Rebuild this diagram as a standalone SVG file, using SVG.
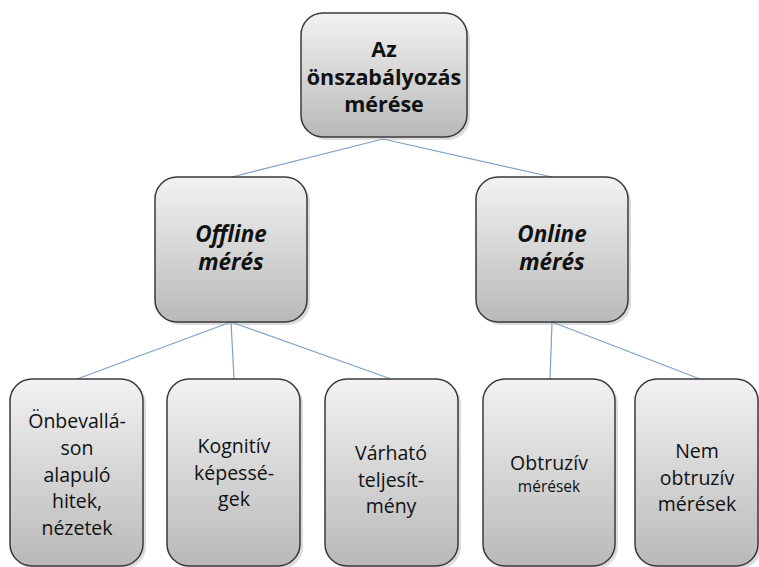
<svg xmlns="http://www.w3.org/2000/svg" width="759" height="567" viewBox="0 0 759 567">
<defs>
<linearGradient id="g" x1="0" y1="0" x2="0" y2="1">
<stop offset="0" stop-color="#f2f2f2"/>
<stop offset="1" stop-color="#b9b9b9"/>
</linearGradient>
<style>
.box{fill:url(#g);stroke:#3a3a3a;stroke-width:1.5}
.sh{fill:#9a9a9a;opacity:0.35}
.t{font-family:"Open Sans","Liberation Sans",Arial,sans-serif;fill:#111;text-anchor:middle}
.b{font-weight:bold;font-size:21.5px}
.bi{font-weight:bold;font-style:italic;font-size:22.5px}
.r{font-size:19.5px}
.s{font-size:15.5px}
.c{stroke:#7f9fc8;stroke-width:1.2;fill:none}
</style>
</defs>
<rect width="759" height="567" fill="#ffffff"/>
<g id="connectors">
<line class="c" x1="383" y1="139" x2="232" y2="177"/>
<line class="c" x1="383" y1="139" x2="552" y2="177"/>
<line class="c" x1="231" y1="322" x2="77" y2="379"/>
<line class="c" x1="231" y1="322" x2="234" y2="379"/>
<line class="c" x1="231" y1="322" x2="391" y2="379"/>
<line class="c" x1="552" y1="322" x2="550" y2="379"/>
<line class="c" x1="552" y1="322" x2="700" y2="379"/>
</g>
<g id="root">
<rect class="sh" x="304" y="16" width="166" height="124" rx="22"/>
<rect class="box" x="301" y="13" width="166" height="124" rx="22"/>
<text class="t b" x="384" y="57">Az</text>
<text class="t b" x="384" y="85">önszabályozás</text>
<text class="t b" x="384" y="112">mérése</text>
</g>
<g id="offline">
<rect class="sh" x="158" y="180" width="152" height="145" rx="22"/>
<rect class="box" x="155" y="177" width="152" height="145" rx="22"/>
<text class="t bi" x="231" y="242">Offline</text>
<text class="t bi" x="231" y="270">mérés</text>
</g>
<g id="online">
<rect class="sh" x="479" y="180" width="152" height="145" rx="22"/>
<rect class="box" x="476" y="177" width="152" height="145" rx="22"/>
<text class="t bi" x="552" y="242">Online</text>
<text class="t bi" x="552" y="270">mérés</text>
</g>
<g id="onbevallas">
<rect class="sh" x="13" y="382" width="133" height="187" rx="22"/>
<rect class="box" x="10" y="379" width="133" height="187" rx="22"/>
<text class="t r" x="77" y="428">Önbevallá-</text>
<text class="t r" x="77" y="455">son</text>
<text class="t r" x="77" y="482">alapuló</text>
<text class="t r" x="77" y="508">hitek,</text>
<text class="t r" x="77" y="535">nézetek</text>
</g>
<g id="kognitiv">
<rect class="sh" x="170" y="382" width="133" height="187" rx="22"/>
<rect class="box" x="167" y="379" width="133" height="187" rx="22"/>
<text class="t r" x="234" y="453">Kognitív</text>
<text class="t r" x="234" y="480">képessé-</text>
<text class="t r" x="234" y="506">gek</text>
</g>
<g id="varhato">
<rect class="sh" x="328" y="382" width="133" height="187" rx="22"/>
<rect class="box" x="325" y="379" width="133" height="187" rx="22"/>
<text class="t r" x="391" y="460">Várható</text>
<text class="t r" x="391" y="487">teljesít-</text>
<text class="t r" x="391" y="513">mény</text>
</g>
<g id="obtruziv">
<rect class="sh" x="486" y="382" width="132" height="187" rx="22"/>
<rect class="box" x="483" y="379" width="132" height="187" rx="22"/>
<text class="t r" x="549" y="470">Obtruzív</text>
<text class="t s" x="549" y="492">mérések</text>
</g>
<g id="nemobtruziv">
<rect class="sh" x="638" y="382" width="123" height="187" rx="22"/>
<rect class="box" x="635" y="379" width="123" height="187" rx="22"/>
<text class="t r" x="697" y="458">Nem</text>
<text class="t r" x="697" y="485">obtruzív</text>
<text class="t r" x="697" y="511">mérések</text>
</g>
</svg>
